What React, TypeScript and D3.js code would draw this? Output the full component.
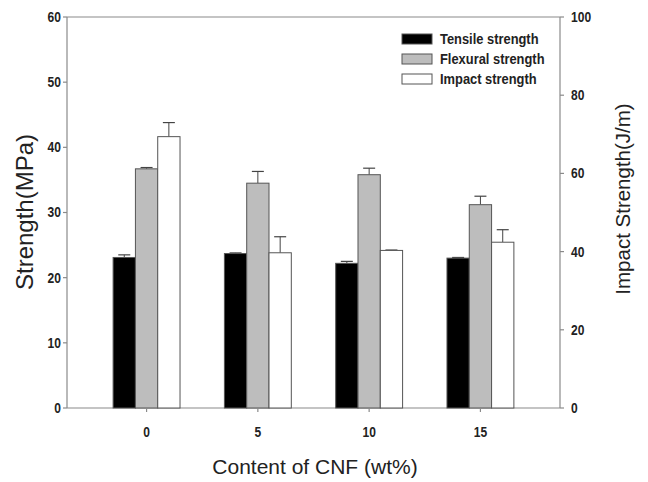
import React from "react";
import * as d3 from "d3";

// CNF content (wt%)
const categories = ["0", "5", "10", "15"];
const seriesNames = ["Tensile strength", "Flexural strength", "Impact strength"];

// left axis (MPa)
const tensile = [23.1, 23.7, 22.2, 23.0];
const tensileErr = [0.4, 0.1, 0.3, 0.1];
const flexural = [36.7, 34.5, 35.8, 31.2];
const flexuralErr = [0.2, 1.8, 1.0, 1.3];
// right axis (J/m)
const impact = [69.4, 39.7, 40.3, 42.4];
const impactErr = [3.6, 4.1, 0.1, 3.2];

const leftTicks = [0, 10, 20, 30, 40, 50, 60];
const rightTicks = [0, 20, 40, 60, 80, 100];

const fills = ["#000000", "#bdbdbd", "#ffffff"];

const font = "Liberation Sans, Arial, sans-serif";

// narrow bold label, squeezed a bit horizontally like the original
function Narrow(props: { x: number; y: number; anchor: string; size: number; children: React.ReactNode }) {
  return (
    <text
      transform={`translate(${props.x},${props.y}) scale(0.86,1)`}
      dy="0.35em"
      textAnchor={props.anchor}
      fontFamily={font}
      fontWeight="bold"
      fontSize={props.size}
      fill="#222"
    >
      {props.children}
    </text>
  );
}

export default function App() {
  const W = 648, H = 482;
  const left = 67, right = 560, top = 17, bottom = 408;

  const x = d3.scalePoint<string>().domain(categories).range([left, right]).padding(0.715);
  const yL = d3.scaleLinear().domain([0, 60]).range([bottom, top]);
  const yR = d3.scaleLinear().domain([0, 100]).range([bottom, top]);
  const barW = 22.3;

  const series = [
    { vals: tensile, err: tensileErr, y: yL },
    { vals: flexural, err: flexuralErr, y: yL },
    { vals: impact, err: impactErr, y: yR },
  ];

  const axisColor = "#8a8a8a";

  return (
    <svg width={W} height={H} style={{ position: "absolute", left: 0, top: 0, background: "#fff" }}>
      {/* frame */}
      <line x1={left} x2={right} y1={top} y2={top} stroke={axisColor} strokeWidth={1.2} />
      <line x1={left} x2={right} y1={bottom} y2={bottom} stroke={axisColor} strokeWidth={1.2} />
      <line x1={left} x2={left} y1={top} y2={bottom} stroke={axisColor} strokeWidth={1.2} />
      <line x1={right} x2={right} y1={top} y2={bottom} stroke={axisColor} strokeWidth={1.2} />

      {/* bars */}
      {series.map((s, si) =>
        categories.map((c, i) => {
          const cx = (x(c) as number) + (si - 1) * barW;
          const x0 = cx - barW / 2;
          const yTop = s.y(s.vals[i]);
          const yErr = s.y(s.vals[i] + s.err[i]);
          return (
            <g key={`${si}-${c}`}>
              <line x1={cx} x2={cx} y1={yTop} y2={yErr} stroke="#444" strokeWidth={1} />
              <line x1={cx - 6} x2={cx + 6} y1={yErr} y2={yErr} stroke="#444" strokeWidth={1.2} />
              <rect x={x0} y={yTop} width={barW} height={bottom - yTop} fill={fills[si]} stroke="#555" strokeWidth={1} />
            </g>
          );
        })
      )}

      {/* left axis */}
      {leftTicks.map((t) => (
        <g key={`l${t}`}>
          <line x1={left - 4} x2={left} y1={yL(t)} y2={yL(t)} stroke={axisColor} strokeWidth={1.2} />
          <Narrow x={left - 6} y={yL(t)} anchor="end" size={14}>{t}</Narrow>
        </g>
      ))}

      {/* right axis */}
      {rightTicks.map((t) => (
        <g key={`r${t}`}>
          <line x1={right} x2={right + 4} y1={yR(t)} y2={yR(t)} stroke={axisColor} strokeWidth={1.2} />
          <Narrow x={right + 11} y={yR(t)} anchor="start" size={14}>{t}</Narrow>
        </g>
      ))}

      {/* x axis */}
      {categories.map((c) => (
        <g key={`x${c}`}>
          <line x1={x(c)} x2={x(c)} y1={bottom} y2={bottom + 4} stroke={axisColor} strokeWidth={1.2} />
          <Narrow x={x(c) as number} y={432} anchor="middle" size={14}>{c}</Narrow>
        </g>
      ))}

      {/* axis titles */}
      <text x={315} y={467} dy="0.35em" textAnchor="middle" fontFamily={font} fontSize={21} fill="#222">
        Content of CNF (wt%)
      </text>
      <text transform={`translate(25,212) rotate(-90)`} dy="0.35em" textAnchor="middle" fontFamily={font} fontSize={24} fill="#222">
        Strength(MPa)
      </text>
      <text transform={`translate(623,199) rotate(-90)`} dy="0.35em" textAnchor="middle" fontFamily={font} fontSize={20.5} fill="#222">
        Impact Strength(J/m)
      </text>

      {/* legend */}
      {seriesNames.map((n, i) => (
        <g key={n}>
          <rect x={402} y={34 + i * 20} width={30} height={10} fill={fills[i]} stroke="#555" strokeWidth={1} />
          <Narrow x={440} y={39 + i * 20} anchor="start" size={15}>{n}</Narrow>
        </g>
      ))}
    </svg>
  );
}
